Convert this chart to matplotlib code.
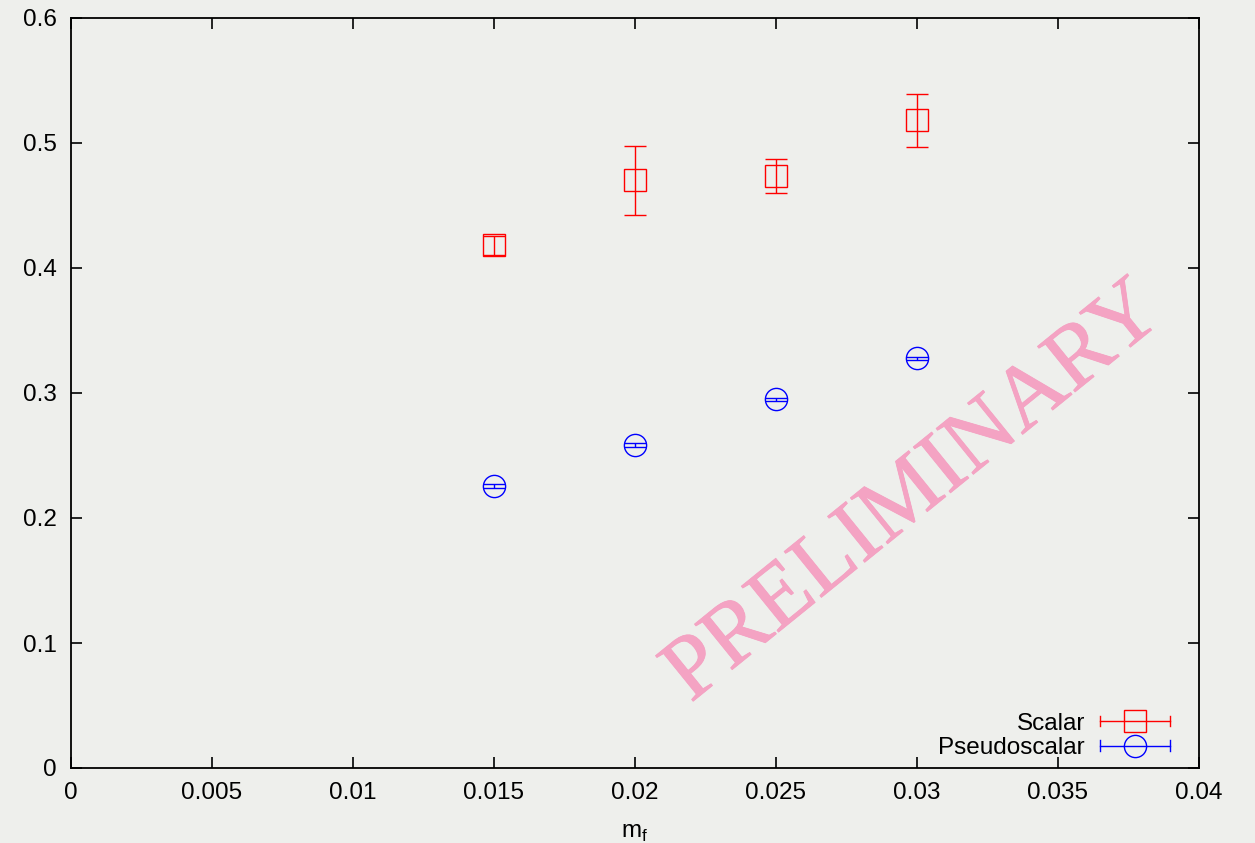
import matplotlib.pyplot as plt
from matplotlib.lines import Line2D
from matplotlib.legend_handler import HandlerBase
import matplotlib.patheffects as pe

# fermion mass values
m_f = [0.015, 0.020, 0.025, 0.030]

# scalar mass and errors
scalar = [0.418, 0.470, 0.4735, 0.518]
scalar_err = [0.0076, 0.0276, 0.0138, 0.021]

# pseudoscalar mass and errors
pseudo = [0.2256, 0.2584, 0.2948, 0.3277]
pseudo_err = [0.0019, 0.0013, 0.0013, 0.0013]

xticks = [0, 0.005, 0.01, 0.015, 0.02, 0.025, 0.03, 0.035, 0.04]
xticklabels = ["0", "0.005", "0.01", "0.015", "0.02", "0.025", "0.03", "0.035", "0.04"]
yticks = [0, 0.1, 0.2, 0.3, 0.4, 0.5, 0.6]
yticklabels = ["0", "0.1", "0.2", "0.3", "0.4", "0.5", "0.6"]

bg = "#eeefec"
fontsize = 17.5
plt.rcParams["font.family"] = ["Liberation Sans", "DejaVu Sans"]
plt.rcParams["mathtext.fontset"] = "custom"
plt.rcParams["mathtext.rm"] = "Liberation Sans"


class GnuplotErrHandler(HandlerBase):
    """Legend sample: horizontal bar with end caps and the marker in the middle."""

    def create_artists(self, legend, orig_handle, xdescent, ydescent,
                       width, height, fontsize, trans):
        c = orig_handle.get_color()
        y = height / 2 - ydescent
        x0, x1 = -xdescent, width - xdescent
        cap = 0.22 * fontsize
        bar = Line2D([x0, x1], [y, y], color=c, lw=1.0, transform=trans)
        left = Line2D([x0, x0], [y - cap, y + cap], color=c, lw=1.0, transform=trans)
        right = Line2D([x1, x1], [y - cap, y + cap], color=c, lw=1.0, transform=trans)
        mk = Line2D([(x0 + x1) / 2], [y], color=c, marker=orig_handle.get_marker(),
                    markersize=orig_handle.get_markersize(), markerfacecolor="none",
                    markeredgewidth=1.0, linestyle="none", transform=trans)
        return [bar, left, right, mk]


fig = plt.figure(figsize=(12.55, 8.43), dpi=100, facecolor=bg)
ax = fig.add_axes([71 / 1255, 1 - 768 / 843, 1128 / 1255, 750 / 843])
ax.set_facecolor(bg)

ax.errorbar(m_f, scalar, yerr=scalar_err, fmt="s", color="red",
            markerfacecolor="none", markeredgecolor="red", markersize=16,
            markeredgewidth=1.0, elinewidth=1.0, capsize=8, capthick=1.0,
            zorder=3)
ax.errorbar(m_f, pseudo, yerr=pseudo_err, fmt="o", color="blue",
            markerfacecolor="none", markeredgecolor="blue", markersize=16,
            markeredgewidth=1.0, elinewidth=1.0, capsize=8, capthick=1.0,
            zorder=3)

ax.set_xlim(0, 0.04)
ax.set_ylim(0, 0.6)
ax.set_xticks(xticks)
ax.set_xticklabels(xticklabels)
ax.set_yticks(yticks)
ax.set_yticklabels(yticklabels)
ax.tick_params(direction="in", length=8, width=1.2, top=True, right=True,
               labelsize=fontsize, pad=10)
for s in ax.spines.values():
    s.set_linewidth(1.3)

ax.set_xlabel(r"m$_\mathrm{f}$", fontsize=fontsize, labelpad=13)

# watermark
wm = ax.text(0.0299, 0.2195, "PRELIMINARY", family="Liberation Serif",
             fontsize=65, color="#f4a3c3", rotation=39, ha="center",
             va="center", rotation_mode="anchor", zorder=1)
wm.set_path_effects([pe.withStroke(linewidth=0.6, foreground="#f4a3c3")])

sample = [
    Line2D([0], [0], color="red", marker="s", markersize=16, label="Scalar"),
    Line2D([0], [0], color="blue", marker="o", markersize=16, label="Pseudoscalar"),
]
ax.legend(handles=sample, handler_map={Line2D: GnuplotErrHandler()},
          loc="lower right", bbox_to_anchor=(0.9936, -0.0173), frameon=False,
          markerfirst=False, fontsize=fontsize, handlelength=2.88,
          handletextpad=0.62, labelspacing=0.1, borderpad=0.4)

fig.savefig("out.png", dpi=100, facecolor=bg)
